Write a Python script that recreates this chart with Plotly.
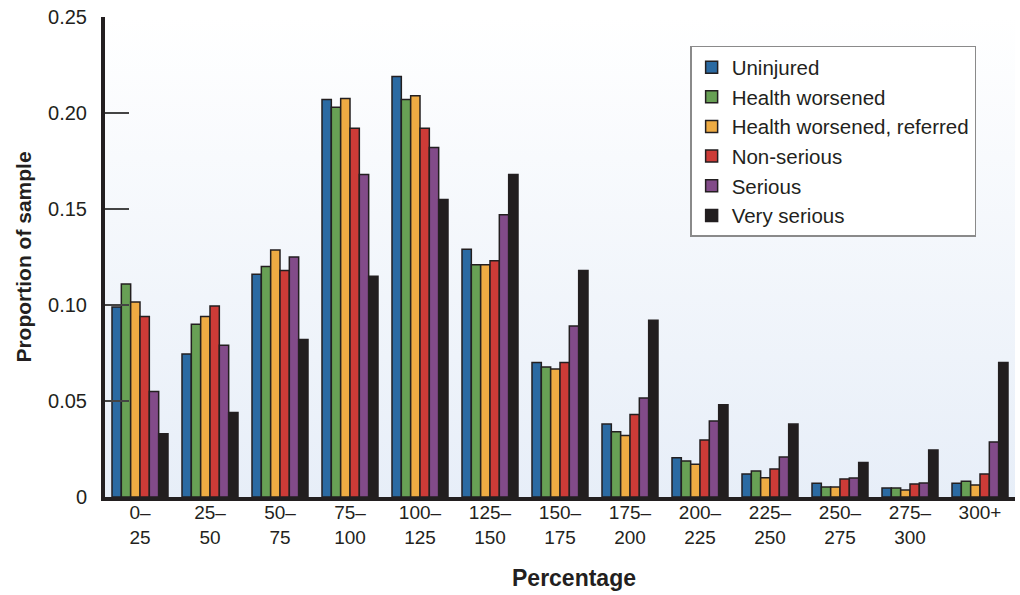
import base64
import plotly.graph_objects as go

categories = ["0–<br>25", "25–<br>50", "50–<br>75", "75–<br>100", "100–<br>125", "125–<br>150",
              "150–<br>175", "175–<br>200", "200–<br>225", "225–<br>250", "250–<br>275",
              "275–<br>300", "300+<br> "]

uninjured = [0.099, 0.0745, 0.116, 0.207, 0.219, 0.129, 0.070, 0.038, 0.0205, 0.012, 0.0072, 0.0047, 0.0072]
health_worsened = [0.111, 0.090, 0.120, 0.203, 0.207, 0.121, 0.0677, 0.034, 0.0188, 0.0135, 0.0052, 0.0047, 0.0082]
health_referred = [0.1015, 0.094, 0.1286, 0.2075, 0.209, 0.121, 0.0667, 0.032, 0.017, 0.010, 0.0052, 0.0036, 0.0063]
non_serious = [0.094, 0.0995, 0.118, 0.192, 0.192, 0.123, 0.070, 0.043, 0.0297, 0.0146, 0.0094, 0.0068, 0.012]
serious = [0.055, 0.079, 0.125, 0.168, 0.182, 0.147, 0.089, 0.0515, 0.0396, 0.0208, 0.0099, 0.0073, 0.0287]
very_serious = [0.033, 0.044, 0.082, 0.115, 0.155, 0.168, 0.118, 0.092, 0.048, 0.038, 0.018, 0.0245, 0.070]

series_names = ["Uninjured", "Health worsened", "Health worsened, referred",
                "Non-serious", "Serious", "Very serious"]
series_values = [uninjured, health_worsened, health_referred, non_serious, serious, very_serious]
series_colors = ["#2b6aa2", "#68a055", "#eeab43", "#cd3b37", "#824b89", "#221e1f"]

y_tickvals = [0, 0.05, 0.10, 0.15, 0.20, 0.25]
y_ticktext = ["0", "0.05", "0.10", "0.15", "0.20", "0.25"]

INK = "#231f20"
FONT = "Liberation Sans, Arial, Helvetica, sans-serif"

fig = go.Figure()
for name, vals, col in zip(series_names, series_values, series_colors):
    fig.add_trace(go.Bar(
        x=categories, y=vals, name=name,
        marker=dict(color=col, line=dict(color=INK, width=1.5)),
    ))

svg = ("<svg xmlns='http://www.w3.org/2000/svg' width='100' height='100' preserveAspectRatio='none'>"
       "<defs><linearGradient id='g' x1='0' y1='0' x2='0' y2='1'>"
       "<stop offset='0' stop-color='#ffffff'/><stop offset='1' stop-color='#e7eef8'/>"
       "</linearGradient></defs><rect width='100' height='100' fill='url(#g)'/></svg>")
src = "data:image/svg+xml;base64," + base64.b64encode(svg.encode()).decode()

fig.update_layout(
    width=1020, height=595,
    margin=dict(l=105, r=5, t=17, b=98),
    paper_bgcolor="white", plot_bgcolor="rgba(0,0,0,0)",
    barmode="group", bargap=0.2, bargroupgap=0,
    font=dict(family=FONT, color=INK, size=19),
    images=[dict(source=src, xref="paper", yref="paper", x=0, y=1, sizex=1, sizey=1,
                 sizing="stretch", layer="below", xanchor="left", yanchor="top")],
    legend=dict(x=0.643, y=0.94, xanchor="left", yanchor="top",
                bgcolor="white", bordercolor="#8a8a8a", borderwidth=1.5,
                font=dict(size=20.5, family=FONT, color=INK),
                traceorder="normal", tracegroupgap=0),
    xaxis=dict(showline=True, linewidth=4, linecolor=INK, ticks="", showgrid=False,
               automargin=False, ticklabelstandoff=-5, tickfont=dict(size=19, color=INK)),
    yaxis=dict(range=[0, 0.25], tickvals=y_tickvals, ticktext=y_ticktext,
               showline=True, linewidth=4, linecolor=INK, showgrid=False, zeroline=False,
               ticks="inside", ticklen=24, tickwidth=2, tickcolor="#444",
               ticklabelstandoff=10, ticklabeloverflow="allow", automargin=False,
               tickfont=dict(size=20, color=INK),
               title=dict(text="<b>Proportion of sample</b>", font=dict(size=21, color=INK), standoff=12)),
    annotations=[dict(text="<b>Percentage</b>", xref="paper", yref="paper",
                      x=0.515, y=-0.168, xanchor="center", yanchor="middle",
                      showarrow=False, font=dict(size=23, color=INK))],
)

fig.write_html("out.html", config={"displayModeBar": False},
               post_script="document.body.style.margin='0';")
